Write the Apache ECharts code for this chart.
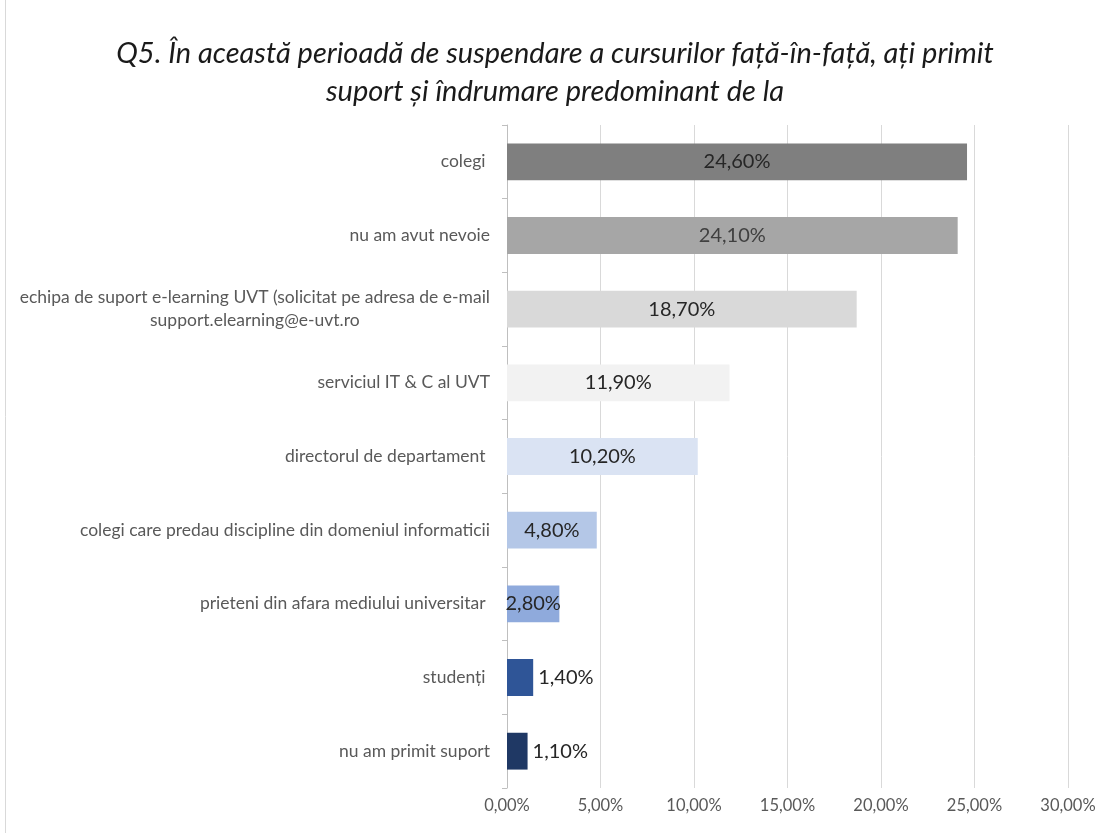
<!DOCTYPE html>
<html>
<head>
<meta charset="utf-8">
<script src="https://cdn.jsdelivr.net/npm/echarts@6/dist/echarts.min.js"></script>
<style>
html,body{margin:0;padding:0;background:#fff;}
#c{width:1110px;height:833px;}
</style>
</head>
<body>
<div id="c"></div>
<script>
const titleText = 'Q5. În această perioadă de suspendare a cursurilor față-în-față, ați primit\nsuport și îndrumare predominant de la';
const categories = [
  'colegi ',
  'nu am avut nevoie',
  'echipa de suport e-learning UVT (solicitat pe adresa de e-mail\nsupport.elearning@e-uvt.ro',
  'serviciul IT & C al UVT',
  'directorul de departament ',
  'colegi care predau discipline din domeniul informaticii',
  'prieteni din afara mediului universitar ',
  'studenți ',
  'nu am primit suport'
];
const values = [24.6, 24.1, 18.7, 11.9, 10.2, 4.8, 2.8, 1.4, 1.1];
const barColors = ['#7f7f7f', '#a6a6a6', '#d9d9d9', '#f2f2f2', '#dae3f3', '#b4c7e7', '#8faadc', '#2f5597', '#1f3864'];
const labelOutside = [false, false, false, false, false, false, false, true, true];
const xTicks = [0, 5, 10, 15, 20, 25, 30];

const FONT = 'Lato, "Open Sans", sans-serif';
const CAT_SIZE = 17.5;
const fmt = v => v.toFixed(2).replace('.', ',') + '%';

const cv = document.createElement('canvas').getContext('2d');
cv.font = CAT_SIZE + 'px ' + FONT;

const chart = echarts.init(document.getElementById('c'), null, {renderer: 'canvas'});
chart.setOption({
  backgroundColor: '#ffffff',
  animation: false,
  title: {
    text: titleText,
    left: 'center',
    top: 30,
    textStyle: {
      fontFamily: FONT,
      fontStyle: 'italic',
      fontWeight: 'normal',
      fontSize: 29,
      lineHeight: 38,
      color: '#1a1a1a'
    }
  },
  graphic: [{
    type: 'line',
    shape: {x1: 5.5, y1: 0, x2: 5.5, y2: 833},
    style: {stroke: '#d9d9d9', lineWidth: 1}
  }],
  grid: {left: 507, right: 42, top: 125, bottom: 45},
  xAxis: {
    type: 'value',
    min: xTicks[0],
    max: xTicks[xTicks.length - 1],
    interval: 5,
    axisLine: {show: false},
    axisTick: {show: false},
    splitLine: {lineStyle: {color: '#d9d9d9', width: 1}},
    axisLabel: {
      formatter: fmt,
      color: '#595959',
      fontFamily: FONT,
      fontSize: 16.5,
      margin: 9
    }
  },
  yAxis: {
    type: 'category',
    inverse: true,
    data: categories,
    axisLine: {lineStyle: {color: '#bfbfbf'}},
    axisTick: {show: true, length: 5, lineStyle: {color: '#bfbfbf'}},
    axisLabel: {
      color: '#595959',
      fontFamily: FONT,
      fontSize: CAT_SIZE,
      margin: 17,
      formatter: function (v) {
        const lines = v.split('\n');
        if (lines.length === 1) return v;
        return lines.map(l => '{c|' + l + '}').join('\n');
      },
      rich: {
        c: {
          align: 'center',
          width: Math.max.apply(null, categories[2].split('\n').map(l => cv.measureText(l).width)),
          lineHeight: 23,
          color: '#595959',
          fontFamily: FONT,
          fontSize: CAT_SIZE
        }
      }
    }
  },
  series: [{
    type: 'bar',
    barWidth: '50%',
    data: values.map((v, i) => ({
      value: v,
      itemStyle: {color: barColors[i]},
      label: {
        show: true,
        position: labelOutside[i] ? 'right' : 'inside',
        distance: 5,
        formatter: p => fmt(p.value),
        color: i === 1 ? '#404040' : '#262626',
        fontFamily: FONT,
        fontSize: 20
      }
    }))
  }]
});
</script>
</body>
</html>
